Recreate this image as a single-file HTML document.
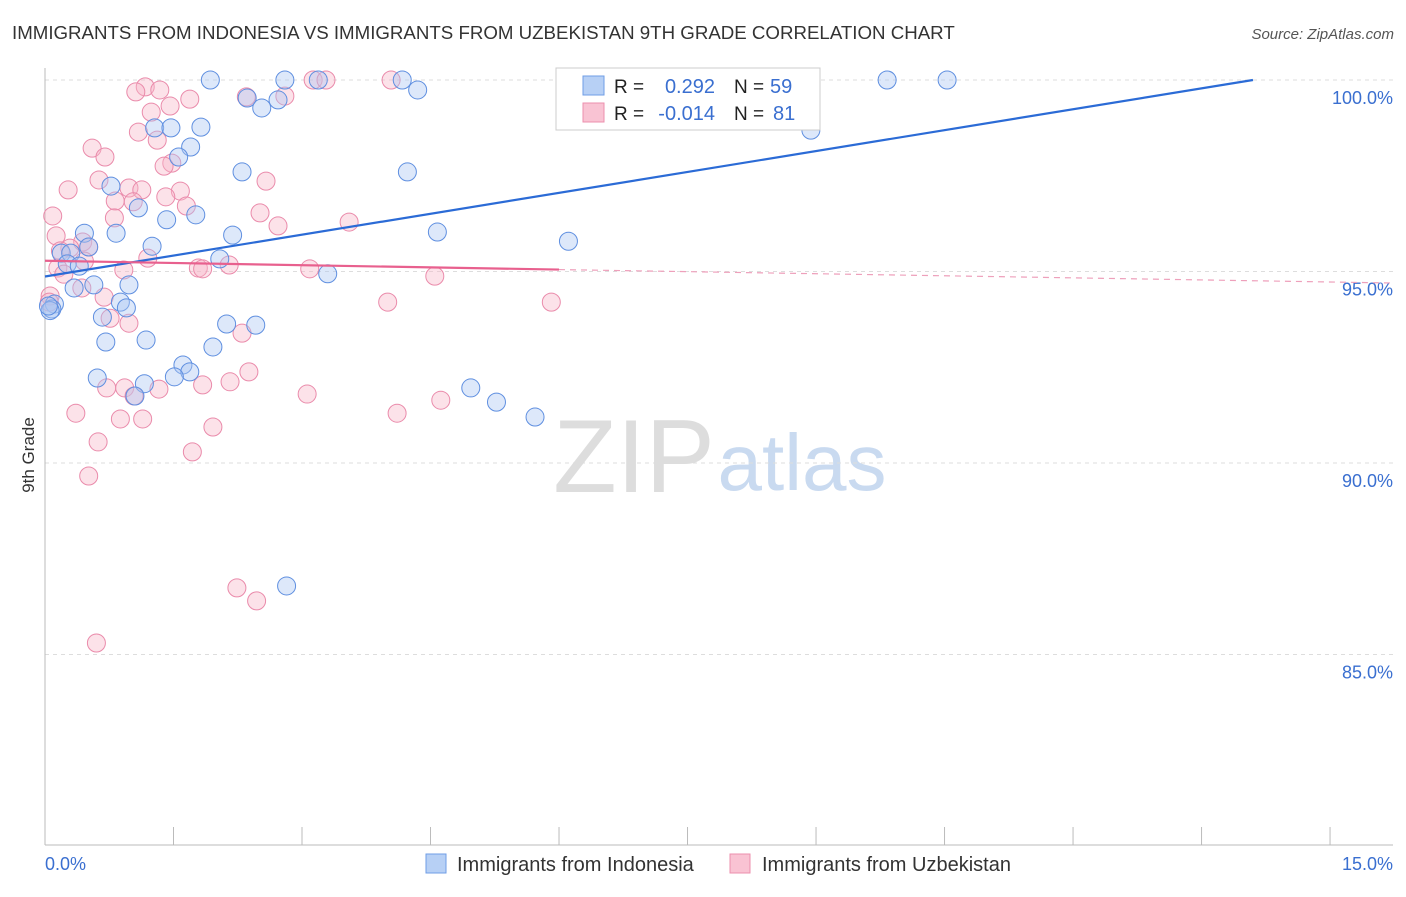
<!DOCTYPE html>
<html><head><meta charset="utf-8"><style>
body{margin:0;background:#fff;font-family:"Liberation Sans",sans-serif}
svg text{font-family:"Liberation Sans",sans-serif}
</style></head><body>
<svg id="c" width="1406" height="892" xmlns="http://www.w3.org/2000/svg">
<text x="12" y="39" font-size="18.7" fill="#333">IMMIGRANTS FROM INDONESIA VS IMMIGRANTS FROM UZBEKISTAN 9TH GRADE CORRELATION CHART</text>
<text x="1394" y="39" font-size="15" fill="#555" text-anchor="end" font-style="italic">Source: ZipAtlas.com</text>
<text x="34" y="455" font-size="17" fill="#333" text-anchor="middle" transform="rotate(-90 34 455)">9th Grade</text>
<g><text x="634" y="492" font-size="104" fill="#ddd" text-anchor="middle" font-family="Liberation Serif">ZIP</text><text x="802" y="490" font-size="80" fill="#c9daf0" text-anchor="middle">atlas</text></g>
<g id="grid"></g><g id="marks"></g>
<g>
<rect x="556" y="68" width="264" height="62" fill="#fff" stroke="#ccc"/>
<rect x="583" y="76" width="21" height="19" fill="#b7d0f5" stroke="#6f9ee6"/>
<rect x="583" y="103" width="21" height="19" fill="#f9c3d3" stroke="#ec8fae"/>
<text x="614" y="93" font-size="19" fill="#222">R =</text><text x="715" y="93" font-size="20" fill="#3a6fd0" text-anchor="end">0.292</text>
<text x="734" y="93" font-size="19" fill="#222">N =</text><text x="770" y="93" font-size="20" fill="#3a6fd0">59</text>
<text x="614" y="120" font-size="19" fill="#222">R =</text><text x="715" y="120" font-size="20" fill="#3a6fd0" text-anchor="end">-0.014</text>
<text x="734" y="120" font-size="19" fill="#222">N =</text><text x="773" y="120" font-size="20" fill="#3a6fd0">81</text>
</g>
<g>
<rect x="426" y="854" width="20" height="19" fill="#b7d0f5" stroke="#6f9ee6"/><text x="457" y="871" font-size="20" fill="#333">Immigrants from Indonesia</text>
<rect x="730" y="854" width="20" height="19" fill="#f9c3d3" stroke="#ec8fae"/><text x="762" y="871" font-size="20" fill="#333">Immigrants from Uzbekistan</text>
</g>
</svg>
<script>
const yTicks=[100,95,90,85];
const yTickLabels=["100.0%","95.0%","90.0%","85.0%"];
const xEndLabels=["0.0%","15.0%"];
const blueX=[1.93,2.8,3.19,4.17,4.35,9.83,10.53,2.36,2.53,2.72,1.28,1.47,1.82,8.94,1.7,1.56,2.3,4.23,0.77,1.09,1.42,1.76,0.83,0.46,2.19,4.58,6.11,1.25,0.19,0.51,0.30,0.26,0.40,2.04,3.30,0.98,0.57,0.34,0.88,0.95,0.11,0.08,0.67,2.12,2.46,1.18,0.71,1.96,1.61,1.69,0.61,1.51,1.16,1.05,4.97,5.27,5.72,2.82,0.06,0.04];
const blueY=[100,100,100,100,99.74,100,100,99.53,99.27,99.48,98.75,98.75,98.77,98.69,98.25,97.99,97.6,97.6,97.23,96.66,96.35,96.48,96.0,96.0,95.95,96.03,95.79,95.66,95.48,95.64,95.48,95.2,95.14,95.33,94.94,94.65,94.65,94.57,94.2,94.05,94.15,94.02,93.81,93.63,93.6,93.21,93.16,93.03,92.56,92.38,92.22,92.25,92.07,91.75,91.96,91.59,91.2,86.79,93.98,94.1];
const pinkX=[1.17,1.34,1.06,3.13,3.28,4.04,2.35,2.8,1.69,1.46,1.24,1.09,1.31,0.55,0.7,1.48,1.39,0.63,2.58,0.27,0.98,1.13,1.58,1.41,0.82,1.65,1.03,0.09,0.81,2.51,2.72,3.55,0.13,0.44,0.29,0.51,0.18,1.2,0.46,0.15,0.92,1.79,1.84,2.15,3.09,0.22,0.43,0.69,0.06,0.05,4.55,4.0,5.91,0.76,0.98,2.3,2.38,2.16,0.72,0.93,1.33,1.84,3.06,4.62,4.11,1.04,0.36,0.88,1.14,1.96,0.62,1.72,0.51,2.24,2.47,0.6];
const pinkY=[99.82,99.74,99.69,100,100,100,99.56,99.58,99.5,99.32,99.16,98.64,98.43,98.22,97.99,97.83,97.75,97.39,97.36,97.13,97.18,97.13,97.1,96.95,96.84,96.71,96.82,96.45,96.4,96.53,96.19,96.29,95.93,95.77,95.61,95.64,95.54,95.35,95.27,95.09,95.04,95.09,95.07,95.17,95.07,94.93,94.57,94.33,94.36,94.2,94.88,94.2,94.2,93.78,93.65,93.39,92.38,92.12,91.96,91.96,91.93,92.04,91.8,91.64,91.3,91.75,91.3,91.15,91.15,90.94,90.55,90.29,89.66,86.74,86.4,85.3];
const blueTrend=[[0,94.87],[14.1,100]];
const pinkTrendSolid=[[0,95.28],[6,95.05]];
const pinkTrendDash=[[6,95.05],[15.73,94.7]];
const NS="http://www.w3.org/2000/svg";
const xs=v=>45+v*85.67, ys=v=>80+(100-v)*38.3;
function mk(t,a,p){const e=document.createElementNS(NS,t);for(const k in a)e.setAttribute(k,a[k]);p.appendChild(e);return e;}
const g=document.getElementById('grid'), m=document.getElementById('marks');
yTicks.forEach((t,i)=>{const l=mk('line',{x1:45,x2:1393,y1:ys(t),y2:ys(t),stroke:'#ddd','stroke-dasharray':'4 4'},g);


const tx=mk('text',{x:1393,y:ys(t)+24,'font-size':18,fill:'#3a6fd0','text-anchor':'end'},g);tx.textContent=yTickLabels[i];

});
const ax=mk('line',{x1:45,x2:1393,y1:845,y2:845,stroke:'#bbb'},g);


const ay=mk('line',{x1:45,x2:45,y1:68,y2:845,stroke:'#bbb'},g);


for(let i=0;i<=10;i++){const t=mk('line',{x1:xs(i*1.5),x2:xs(i*1.5),y1:827,y2:845,stroke:'#bbb'},g);

}
[[0,45,'start'],[1,1393,'end']].forEach(([i,x,a])=>{const t=mk('text',{x:x,y:870,'font-size':18,fill:'#3a6fd0','text-anchor':a},g);t.textContent=xEndLabels[i];

});
function pts(X,Y,f,s,n){X.forEach((x,i)=>{const c=mk('circle',{cx:xs(x),cy:ys(Y[i]),r:9,fill:f,'fill-opacity':0.4,stroke:s,'stroke-width':1},m);

});}
pts(pinkX,pinkY,'#f7b6c9','#ea8bab','point-uzbekistan');
pts(blueX,blueY,'#a9c6f2','#5f8fe0','point-indonesia');
function ln(p,c,d,n){const l=mk('line',{x1:xs(p[0][0]),y1:ys(p[0][1]),x2:xs(p[1][0]),y2:ys(p[1][1]),stroke:c,'stroke-width':d?1.2:2.2},m);if(d)l.setAttribute('stroke-dasharray','6 5');

}
ln(blueTrend,'#2b6bd6',false,'trend-indonesia');
ln(pinkTrendSolid,'#e8608e',false,'trend-uzbekistan');
ln(pinkTrendDash,'#eea0bb',true,'trend-uzbekistan-extension');
</script>
</body></html>
